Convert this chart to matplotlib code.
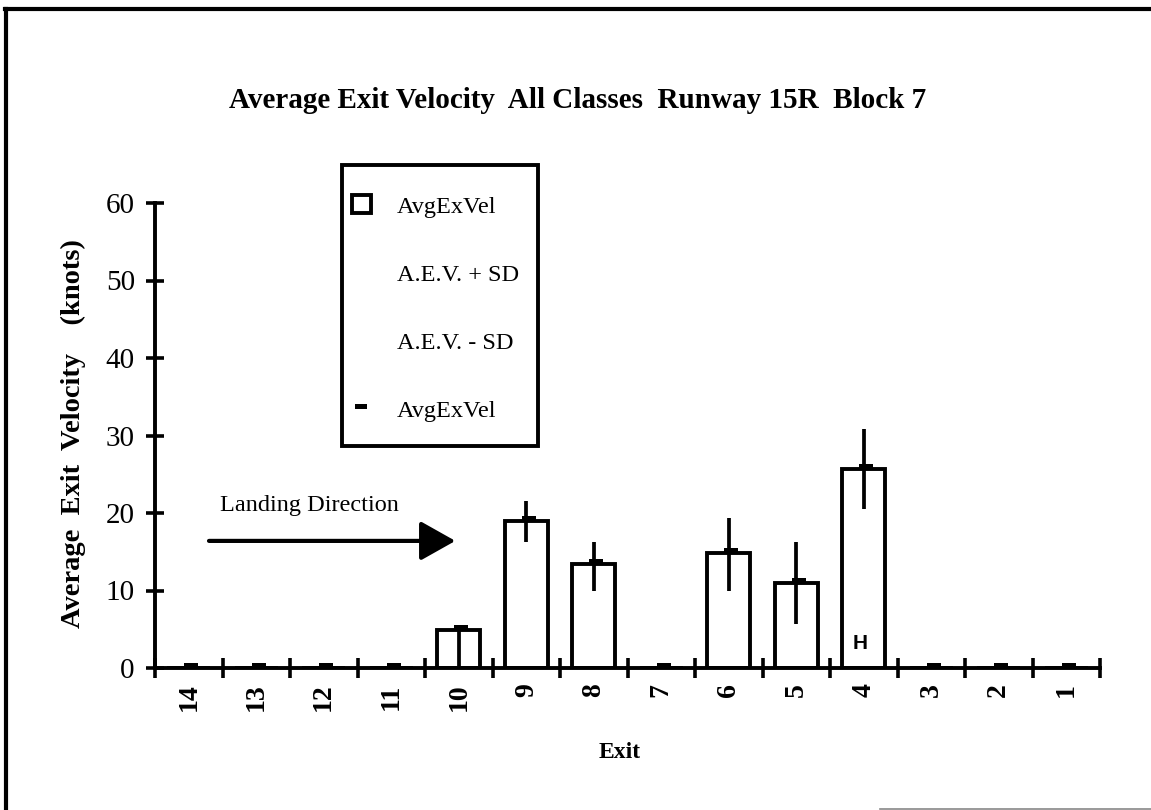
import matplotlib
matplotlib.use("Agg")
import matplotlib.pyplot as plt
from matplotlib.lines import Line2D
from matplotlib.patches import Patch, Rectangle
import numpy as np

# Exits in runway order (landing direction left to right)
exits = [14, 13, 12, 11, 10, 9, 8, 7, 6, 5, 4, 3, 2, 1]
avg_exit_vel = [0, 0, 0, 0, 4.9, 19.0, 13.4, 0, 14.8, 11.0, 25.7, 0, 0, 0]
aev_plus_sd = [0, 0, 0, 0, 5.3, 21.6, 16.2, 0, 19.4, 16.2, 30.9, 0, 0, 0]
aev_minus_sd = [0, 0, 0, 0, 0.0, 16.2, 9.9, 0, 9.9, 5.7, 20.5, 0, 0, 0]
y_ticks = [0, 10, 20, 30, 40, 50, 60]

W, H = 1151, 810
fig = plt.figure(figsize=(W / 100, H / 100), dpi=100)
fig.patch.set_facecolor("white")

serif = ["Liberation Serif", "DejaVu Serif"]
plt.rcParams["font.family"] = serif

def fx(px):
    return px / W

def fy(py):
    return 1 - py / H

# small filled dash that sits on top of its value
dash_marker = [(-1, -0.1), (1, -0.1), (1, 0.8), (-1, 0.8), (-1, -0.1)]

ax = fig.add_axes([fx(155), fy(668), fx(1100) - fx(155), fy(203) - fy(668)])
ax.set_facecolor("none")

pos = np.arange(len(exits)) + 0.5
ax.bar(pos, avg_exit_vel, width=0.64, facecolor="white",
       edgecolor="black", linewidth=2.8, zorder=2)
ax.vlines(pos, aev_minus_sd, aev_plus_sd, colors="black", linewidth=2.7,
          zorder=3)
ax.plot(pos + 0.04, avg_exit_vel, linestyle="none", marker=dash_marker,
        markersize=9.5, markeredgewidth=0, color="black", zorder=4,
        clip_on=False)

ax.set_xlim(0, len(exits))
ax.set_ylim(0, 60)

# spines and ticks
for side in ("top", "right"):
    ax.spines[side].set_visible(False)
for side in ("left", "bottom"):
    ax.spines[side].set_linewidth(2.8)

ax.set_yticks(y_ticks)
ax.set_yticklabels([str(v) for v in y_ticks], fontsize=21)
ax.tick_params(axis="y", direction="inout", length=13, width=2.6, pad=8)

ax.set_xticks(np.arange(len(exits) + 1))
ax.set_xticklabels([])
ax.tick_params(axis="x", which="major", direction="inout", length=14,
               width=2.6)
ax.set_xticks(pos, minor=True)
ax.set_xticklabels([str(e) for e in exits], minor=True, rotation=90,
                   fontsize=20, fontweight="bold", va="top")
ax.tick_params(axis="x", which="minor", length=0, pad=11)

ax.set_ylabel("Average  Exit  Velocity    (knots)", fontsize=20.5,
              fontweight="bold")
ax.yaxis.set_label_coords((86 - 155) / 945, 0.505)
ax.set_xlabel("Exit", fontsize=17, fontweight="bold")
ax.xaxis.set_label_coords((620 - 155) / 945, -(742 - 668) / 465)

# "H" marker inside exit 4 bar
ax.text(pos[exits.index(4)] - 0.05, 3.2, "H", ha="center", va="center",
        fontsize=15, fontweight="bold", family="Liberation Sans", zorder=5)

# landing direction arrow
ax.annotate("", xy=(4.45, 16.4), xytext=(0.8, 16.4),
            arrowprops=dict(arrowstyle="-|>,head_length=0.8,head_width=0.45",
                            mutation_scale=27, lw=3, color="black",
                            shrinkA=0, shrinkB=0))
ax.text(0.96, 21.0, "Landing Direction", fontsize=17.5, ha="left",
        va="center")

# legend: entries anchored inside a separately drawn frame
handles = [
    Patch(facecolor="white", edgecolor="black", linewidth=2.8),
    Line2D([], [], linestyle="none"),
    Line2D([], [], linestyle="none"),
    Line2D([], [], linestyle="none", marker=dash_marker, markersize=8,
           markeredgewidth=0, color="black"),
]
labels = ["AvgExVel", "A.E.V. + SD", "A.E.V. - SD", "AvgExVel"]
fs_leg = 17.5
fs_px = fs_leg * 100 / 72
row_px = 0.89 * fs_px
leg = fig.legend(handles, labels, loc="upper left",
                 bbox_to_anchor=(fx(352), fy(206 - row_px / 2)),
                 fontsize=fs_leg, frameon=False, borderpad=0,
                 borderaxespad=0, labelspacing=(67 - row_px) / fs_px,
                 handlelength=0.78, handleheight=0.78,
                 handletextpad=(397 - 371) / fs_px)
fig.add_artist(Rectangle((fx(342), fy(446)), fx(538) - fx(342),
                         fy(165) - fy(446), transform=fig.transFigure,
                         facecolor="none", edgecolor="black", lw=2.8))

# title
fig.text(fx(578), fy(100), "Average Exit Velocity  All Classes  Runway 15R  Block 7",
         ha="center", va="center", fontsize=21, fontweight="bold")

# page frame
fig.add_artist(Line2D([fx(6), fx(6)], [fy(9), fy(812)], color="black",
                      lw=3, transform=fig.transFigure))
fig.add_artist(Line2D([fx(5), fx(1152)], [fy(9), fy(9)], color="black",
                      lw=3, transform=fig.transFigure))
fig.add_artist(Line2D([fx(880), fx(1152)], [fy(809), fy(809)],
                      color="#888888", lw=1.2, transform=fig.transFigure))

fig.savefig("out.png", dpi=100, facecolor="white")
